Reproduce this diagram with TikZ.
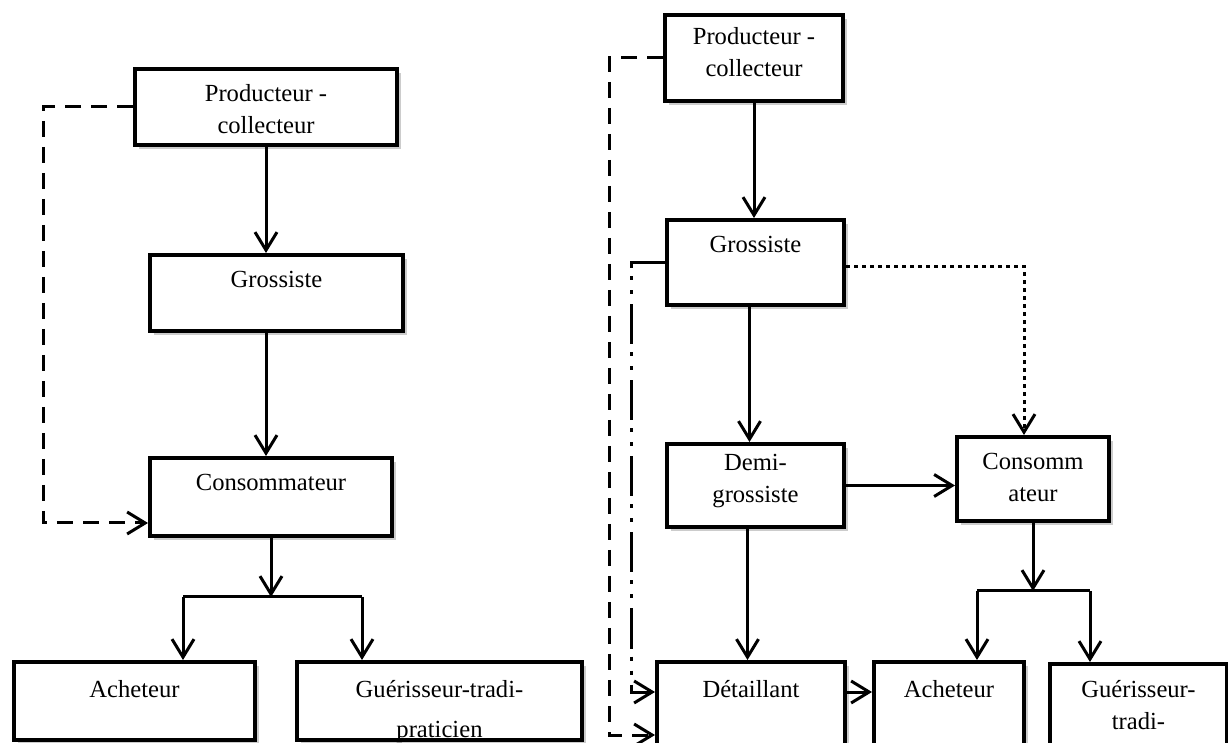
\documentclass[tikz,border=0pt]{standalone}
\usepackage{fontspec}
\setmainfont{Liberation Serif}
\usetikzlibrary{arrows.meta, shadows}

\tikzset{
  box/.style = {draw, line width=2pt, fill=white, anchor=north west, inner sep=0pt,
    drop shadow={shadow xshift=2pt, shadow yshift=-2pt, opacity=0.4}},
  sz/.style 2 args = {minimum width=#1*0.5pt, minimum height=#2*0.5pt},
  lbl/.style = {anchor=north, align=center, inner sep=0pt, font=\fontsize{12.3}{16}\selectfont},
  seg/.style = {line width=1.5pt},
  link/.style = {seg, -{Straight Barb[length=9pt, width=11pt, line width=1.5pt]}},
  dashlink/.style = {link, dash pattern=on 8pt off 5pt},
  dotlink/.style = {link, dash pattern=on 2pt off 2pt},
  dotdash/.style = {link, dash pattern=on 20pt off 4pt on 2pt off 5pt on 2pt off 5pt}
}

\begin{document}
\begin{tikzpicture}[x=0.5pt, y=-0.5pt]
\useasboundingbox (0,0) rectangle (1228,743);

% left chain
\node[box, sz={262}{76}] (p1) at (133,67) {};
\node[box, sz={253}{76}] (g1) at (148,253) {};
\node[box, sz={242}{78}] (c1) at (148,456) {};
\node[box, sz={241}{78}] (a1) at (12,660) {};
\node[box, sz={285}{78}] (t1) at (295,660) {};

\node[lbl] (p1t) at ([yshift=-8.5pt]p1.north) {Producteur -\\collecteur};
\node[lbl] (g1t) at ([yshift=-9pt]g1.north) {Grossiste};
\node[lbl] (c1t) at ([yshift=-9pt]c1.north) {Consommateur};
\node[lbl] (a1t) at ([yshift=-10pt]a1.north) {Acheteur};
\node[lbl] (t1t) at ([yshift=-10pt]t1.north) {Guérisseur-tradi-\\[4pt]praticien};

\coordinate (j1) at (269,597);
\coordinate (j1a) at (183,597);
\coordinate (j1b) at (362,597);

\draw[link] (p1.south) -- (p1.south |- g1.north);
\draw[link] (p1.south |- g1.south) -- (p1.south |- c1.north);
\draw[link] (c1.south) -- (c1.south |- j1);
\draw[seg] (j1a) -- (j1b);
\draw[link] (j1a) -- (j1a |- a1.north);
\draw[link] (j1b) -- (j1b |- t1.north);
\draw[dashlink] (p1.west) -- ++(-90,0) |- ([yshift=-13pt]c1.west);

% right chain
\node[box, sz={178}{86}] (p2) at (663,13) {};
\node[box, sz={177}{85}] (g2) at (665,218) {};
\node[box, sz={177}{83}] (d2) at (665,442) {};
\node[box, sz={152}{84}] (c2) at (955,435) {};
\node[box, sz={188}{110}] (r2) at (655,660) {};
\node[box, sz={150}{110}] (a2) at (872,660) {};
\node[box, sz={177}{110}] (t2) at (1048,662) {};

\node[lbl] (p2t) at ([yshift=-7pt]p2.north) {Producteur -\\collecteur};
\node[lbl] (g2t) at ([yshift=-9pt]g2.north) {Grossiste};
\node[lbl] (d2t) at ([yshift=-6pt]d2.north) {Demi-\\grossiste};
\node[lbl] (c2t) at ([yshift=-9pt]c2.north) {Consomm\\ateur};
\node[lbl] (r2t) at ([yshift=-10pt]r2.north) {Détaillant};
\node[lbl] (a2t) at ([yshift=-10pt]a2.north) {Acheteur};
\node[lbl] (t2t) at ([yshift=-9pt]t2.north) {Guérisseur-\\tradi-};

\coordinate (j2) at (1031,591);
\coordinate (j2a) at (977,591);
\coordinate (j2b) at (1090,591);

\draw[link] (p2.south) -- (p2.south |- g2.north);
\draw[link] ([xshift=-3pt]g2.south) -- ([xshift=-3pt]g2.south |- d2.north);
\draw[link] ([xshift=-4pt]d2.south) -- ([xshift=-4pt]d2.south |- r2.north);
\draw[link] (d2.east) -- (d2.east -| c2.west);
\draw[link] (c2.south) -- (c2.south |- j2);
\draw[seg] (j2a) -- (j2b);
\draw[link] (j2a) -- (j2a |- a2.north);
\draw[link] (j2b) -- (j2b |- t2.north);
\draw[link] ([yshift=12.5pt]r2.east) -- ([yshift=12.5pt]a2.west);
\draw[dashlink] (p2.west) -- ++(-54,0) |- ([yshift=-9pt]r2.west);
\draw[dotdash] (g2.west) -- ++(-34,0) |- ([yshift=12.5pt]r2.west);
\draw[dotlink] ([yshift=-2pt]g2.east) -| ([xshift=-4.5pt]c2.north);
\end{tikzpicture}
\end{document}
